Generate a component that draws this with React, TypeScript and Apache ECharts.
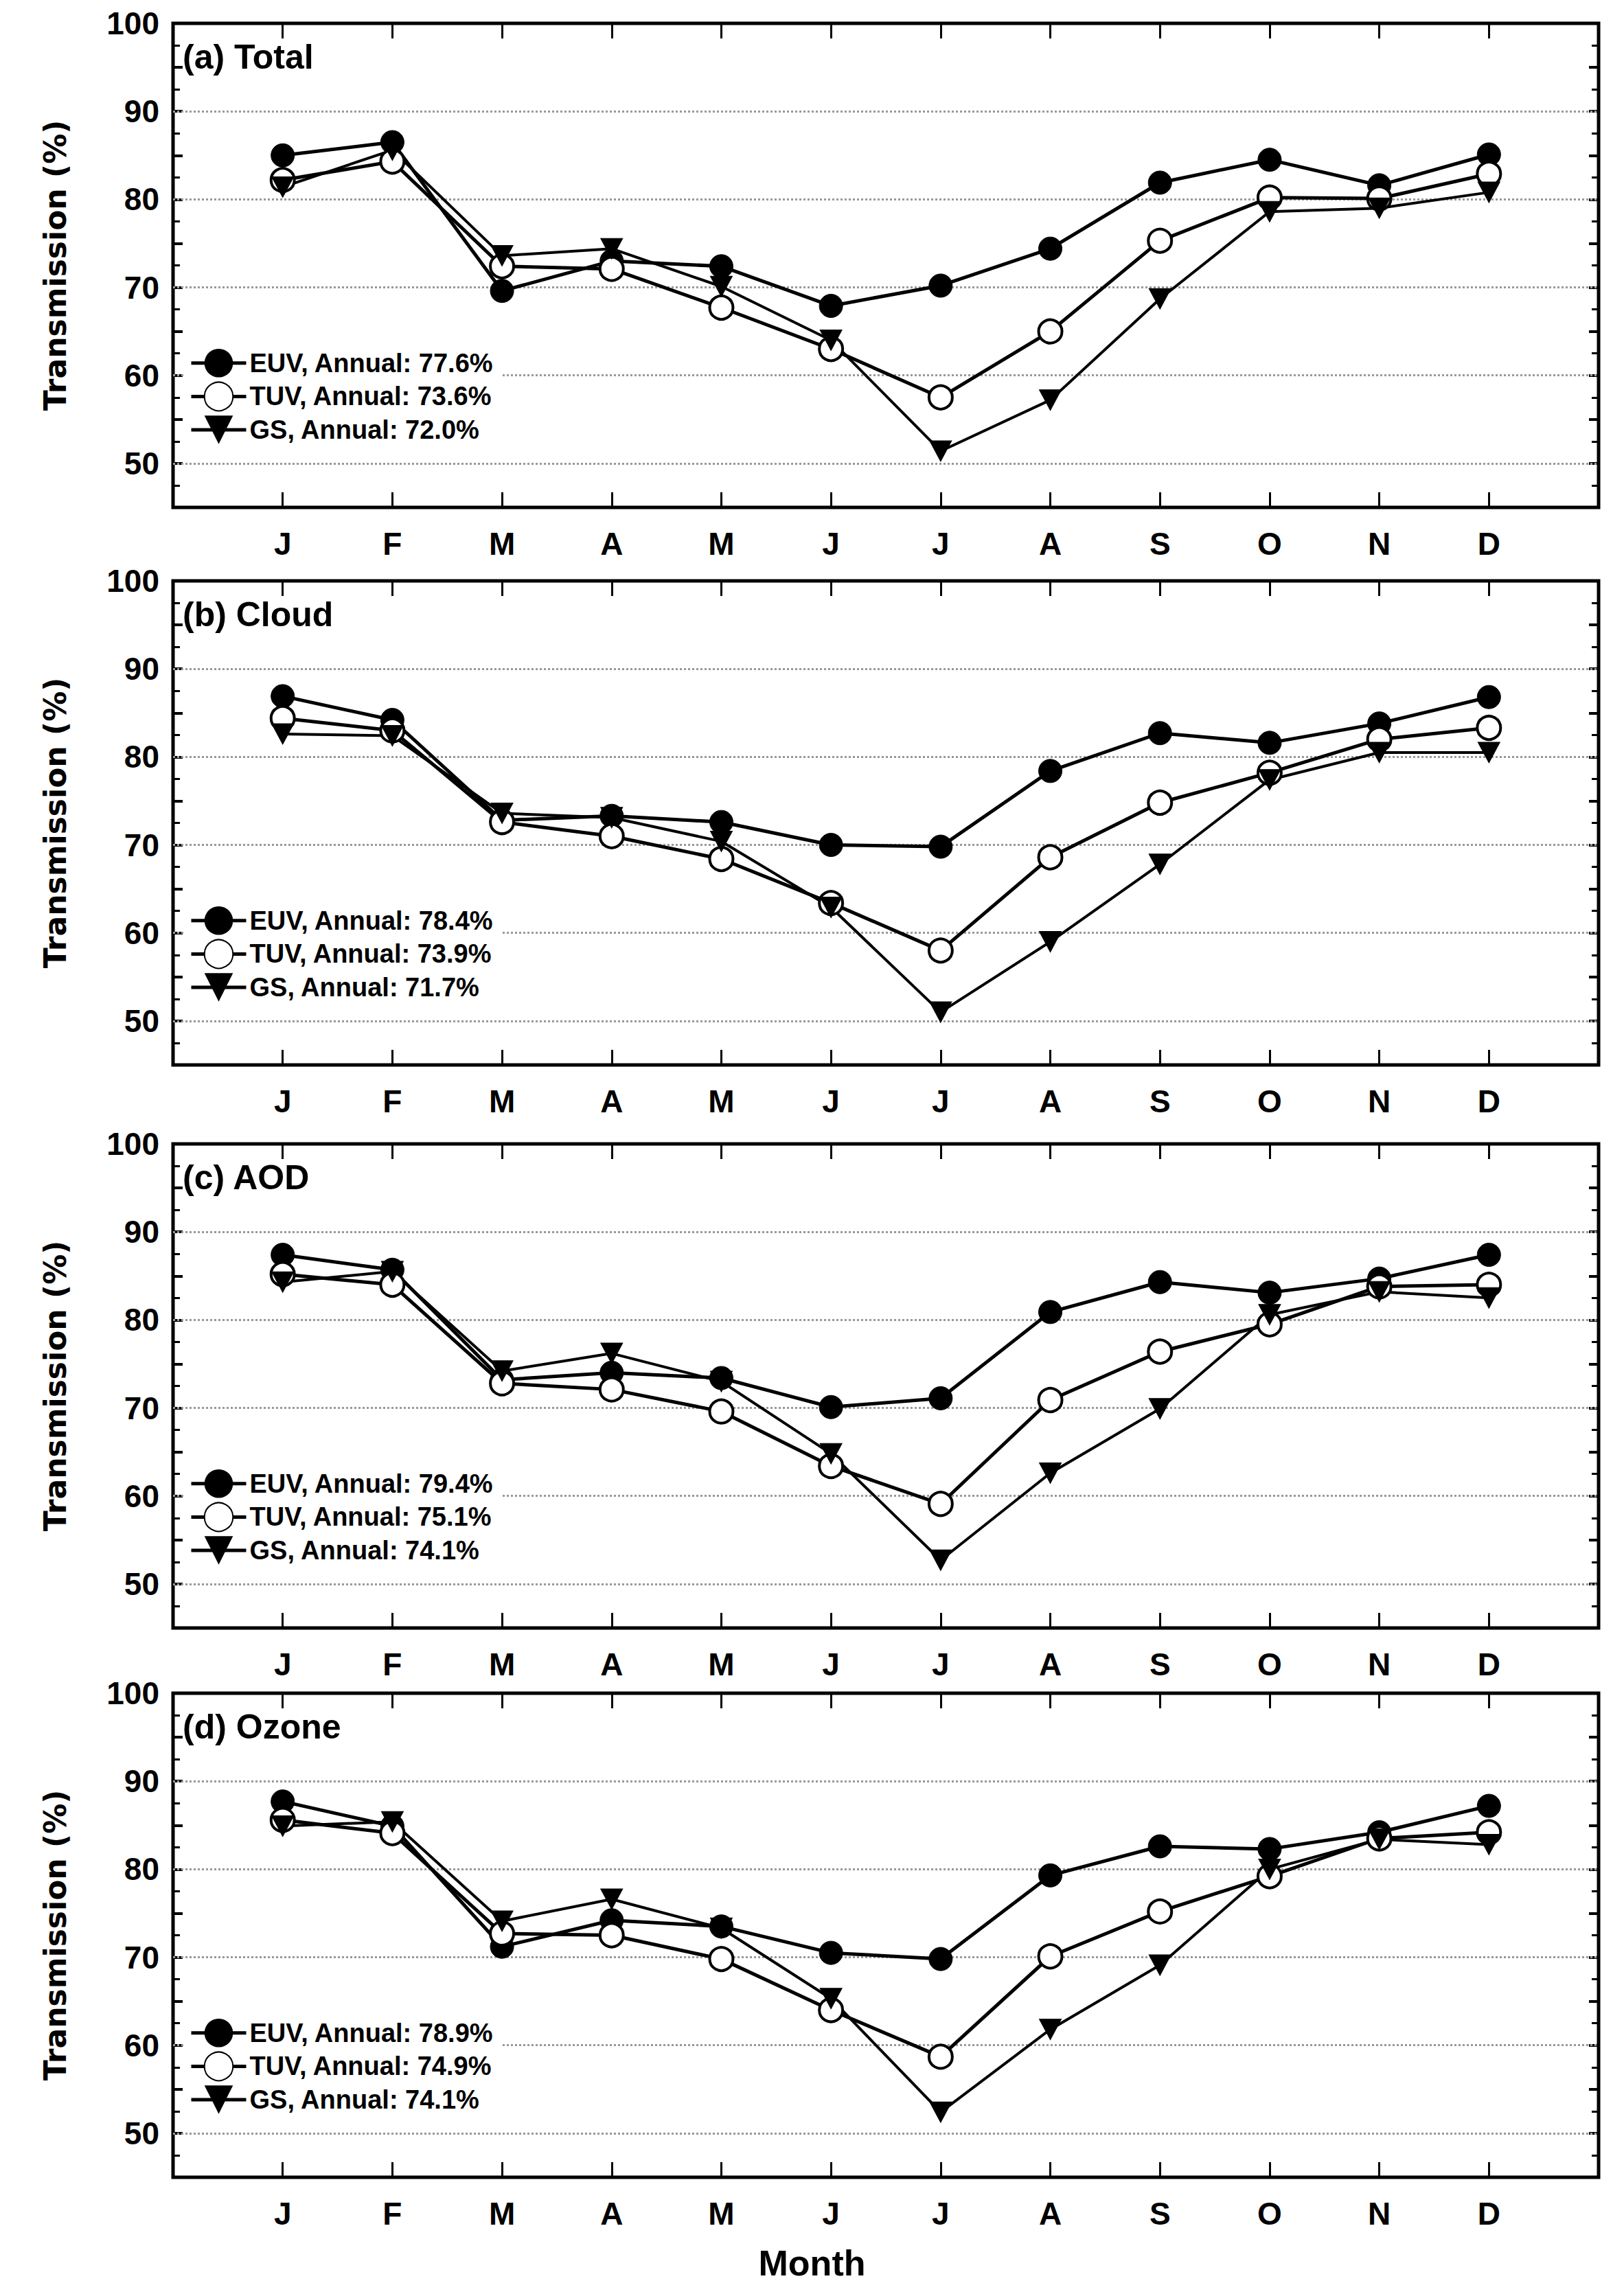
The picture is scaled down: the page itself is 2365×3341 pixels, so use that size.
import { useEffect, useRef } from 'react';
import * as echarts from 'echarts';

const MONTHS = ['', 'J', 'F', 'M', 'A', 'M', 'J', 'J', 'A', 'S', 'O', 'N', 'D', ''];
const PANEL_TITLES = ['(a) Total', '(b) Cloud', '(c) AOD', '(d) Ozone'];
const GRID_LINES = [50, 60, 70, 80, 90];

const EUV_NAMES = ['EUV, Annual: 77.6%', 'EUV, Annual: 78.4%', 'EUV, Annual: 79.4%', 'EUV, Annual: 78.9%'];
const TUV_NAMES = ['TUV, Annual: 73.6%', 'TUV, Annual: 73.9%', 'TUV, Annual: 75.1%', 'TUV, Annual: 74.9%'];
const GS_NAMES = ['GS, Annual: 72.0%', 'GS, Annual: 71.7%', 'GS, Annual: 74.1%', 'GS, Annual: 74.1%'];

const EUV = [
  [85.0, 86.5, 69.6, 73.0, 72.4, 67.9, 70.2, 74.4, 81.9, 84.5, 81.6, 85.1],
  [86.9, 84.2, 72.8, 73.3, 72.6, 70.0, 69.8, 78.4, 82.7, 81.6, 83.8, 86.8],
  [87.4, 85.7, 73.2, 74.0, 73.4, 70.1, 71.1, 80.9, 84.3, 83.1, 84.7, 87.4],
  [87.7, 84.9, 71.2, 74.2, 73.5, 70.5, 69.8, 79.3, 82.6, 82.3, 84.2, 87.2],
];
const TUV = [
  [82.2, 84.3, 72.4, 72.1, 67.7, 63.0, 57.5, 65.0, 75.3, 80.2, 80.1, 82.9],
  [84.4, 83.0, 72.6, 71.0, 68.4, 63.4, 58.0, 68.6, 74.8, 78.2, 82.0, 83.3],
  [85.2, 84.0, 72.8, 72.1, 69.6, 63.4, 59.1, 70.9, 76.4, 79.5, 83.8, 84.0],
  [85.6, 84.1, 72.7, 72.5, 69.8, 64.0, 58.7, 70.1, 75.2, 79.2, 83.5, 84.2],
];
const GS = [
  [81.4, 85.6, 73.6, 74.4, 70.1, 64.0, 51.4, 57.2, 68.7, 78.6, 79.0, 80.8],
  [82.6, 82.4, 73.6, 73.1, 70.4, 62.9, 51.0, 59.0, 67.8, 77.4, 80.5, 80.5],
  [84.3, 85.5, 74.2, 76.2, 73.0, 64.8, 52.7, 62.6, 69.9, 80.6, 83.2, 82.5],
  [84.9, 85.4, 74.1, 76.6, 73.3, 65.3, 52.4, 61.8, 69.1, 80.0, 83.4, 82.8],
];

const GRID_TOPS = [26, 838, 1658, 2458];
const GRID_H = 705;
const LEFT = 244;
const RIGHT = 29;
const NARROW = '"Liberation Sans Narrow", "Liberation Sans", Arial, sans-serif';
const TRI_DOWN = 'path://M0,0 L10,0 L5,9 Z';

const pad = (vals: number[]) => [null, ...vals, null];

export default function App() {
  const ref = useRef<HTMLDivElement>(null);

  useEffect(() => {
    if (!ref.current) return;
    const chart = echarts.init(ref.current, undefined, { renderer: 'svg' });

    const grids: any[] = [];
    const xAxes: any[] = [];
    const yAxes: any[] = [];
    const series: any[] = [];
    const legends: any[] = [];
    const graphics: any[] = [];

    GRID_TOPS.forEach((top, i) => {
      grids.push({
        left: LEFT, right: RIGHT, top, height: GRID_H,
        show: true, borderColor: '#000', borderWidth: 5, backgroundColor: '#fff',
      });
      const tickInterval = (idx: number) => idx > 0 && idx < MONTHS.length - 1;
      const xBase = {
        type: 'category', data: MONTHS, gridIndex: i, boundaryGap: false,
        axisLine: { show: false },
        axisTick: { show: true, inside: true, length: 22, interval: tickInterval, lineStyle: { color: '#000', width: 3 } },
        splitLine: { show: false },
      };
      xAxes.push({
        ...xBase, position: 'bottom',
        axisLabel: { show: true, interval: 0, margin: 30, color: '#000', fontSize: 46, fontWeight: 'bold', fontFamily: NARROW },
      });
      xAxes.push({ ...xBase, position: 'top', axisLabel: { show: false } });
      const yBase = {
        type: 'value', gridIndex: i, min: 45, max: 100, interval: 5,
        axisLine: { show: false },
        axisTick: { show: true, inside: true, length: 14, lineStyle: { color: '#000', width: 4 } },
        minorTick: { show: true, splitNumber: 2, length: 10, lineStyle: { color: '#000', width: 3 } },
        splitLine: { show: false },
      };
      yAxes.push({
        ...yBase, position: 'left',
        name: 'Transmission (%)', nameLocation: 'middle', nameGap: 150,
        nameTextStyle: { color: '#000', fontSize: 44, fontWeight: 'bold', fontFamily: '"DejaVu Sans", sans-serif' },
        axisLabel: {
          color: '#000', fontSize: 46, fontWeight: 'bold', fontFamily: NARROW, margin: 20,
          formatter: (v: number) => (v % 10 === 0 ? String(v) : ''),
        },
      });
      yAxes.push({ ...yBase, position: 'right', axisLabel: { show: false } });

      const common = {
        type: 'line', xAxisIndex: i * 2, yAxisIndex: i * 2,
        lineStyle: { color: '#000', width: 5 },
        symbolSize: 34, z: 3,
      };
      series.push({
        ...common, name: EUV_NAMES[i], data: pad(EUV[i]), symbol: 'circle',
        itemStyle: { color: '#000', borderColor: '#000' },
        markLine: {
          silent: true, symbol: 'none', label: { show: false }, z: 1,
          lineStyle: { color: '#999', type: 'dotted', width: 3 },
          data: GRID_LINES.map((v) => ({ yAxis: v })),
        },
      });
      series.push({
        ...common, name: TUV_NAMES[i], data: pad(TUV[i]), symbol: 'circle',
        itemStyle: { color: '#fff', borderColor: '#000', borderWidth: 4 },
      });
      series.push({
        ...common, name: GS_NAMES[i], data: pad(GS[i]), symbol: TRI_DOWN, symbolSize: [32, 30],
        itemStyle: { color: '#000', borderColor: '#000' }, lineStyle: { color: '#000', width: 4 },
      });
      legends.push({
        data: [EUV_NAMES[i], TUV_NAMES[i], GS_NAMES[i]],
        orient: 'vertical', left: 262, top: top + 470,
        itemWidth: 80, itemHeight: 52, itemGap: 6,
        backgroundColor: '#fff', padding: [4, 10, 4, 6],
        lineStyle: { width: 5, color: '#000' },
        textStyle: { color: '#000', fontSize: 38, fontWeight: 'bold', fontFamily: NARROW },
        selectedMode: false, z: 5,
      });
      graphics.push({
        type: 'text', left: LEFT + 14, top: top + 24,
        style: { text: PANEL_TITLES[i], fill: '#000', font: `bold 50px ${NARROW}` },
      });
    });

    graphics.push({
      type: 'text', left: 'center', top: 3262,
      style: { text: 'Month', fill: '#000', font: `bold 52px ${NARROW}`, x: 46 },
    });

    chart.setOption({
      animation: false,
      backgroundColor: '#fff',
      grid: grids,
      xAxis: xAxes,
      yAxis: yAxes,
      series,
      legend: legends,
      graphic: graphics,
    });

    return () => chart.dispose();
  }, []);

  return <div ref={ref} style={{ width: 2349, height: 3325 }} />;
}
